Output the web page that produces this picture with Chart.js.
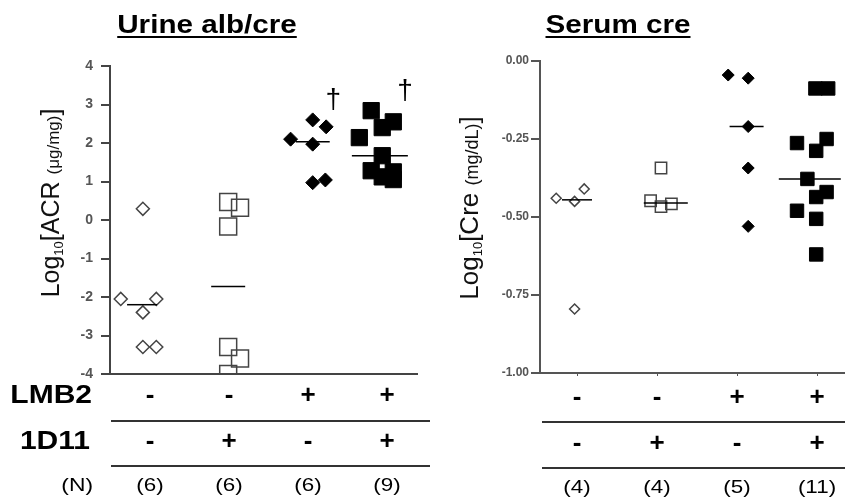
<!DOCTYPE html>
<html>
<head>
<meta charset="utf-8">
<script src="https://cdn.jsdelivr.net/npm/chart.js@4.4.1/dist/chart.umd.min.js"></script>
<style>
  html, body { margin: 0; padding: 0; background: #fff; }
  #wrap { position: relative; width: 845px; height: 501px; overflow: hidden; }
  canvas { position: absolute; top: 0; }
</style>
</head>
<body>
<div id="wrap">
  <canvas id="acr" width="430" height="501" style="left:0;width:430px;height:501px"></canvas>
  <canvas id="cre" width="415" height="501" style="left:430px;width:415px;height:501px"></canvas>
</div>
<script>
// groups (x positions 1..4) and the treatment table under the plots
const groups = [1, 2, 3, 4];
const lmb2 = ['-', '-', '+', '+'];
const d1d11 = ['-', '+', '-', '+'];
const acrN = ['(6)', '(6)', '(6)', '(9)'];
const creN = ['(4)', '(4)', '(5)', '(11)'];

// Urine alb/cre, log10 ACR (ug/mg). *Jit = horizontal spread of the dots in a group
const acrCtrl = [0.29, -2.05, -2.05, -2.4, -3.3, -3.3];
const acrCtrlJit = [-0.09, -0.37, 0.08, -0.09, -0.09, 0.08];
const acr1D11 = [0.47, 0.32, -0.17, -3.3, -3.6, -4.0];
const acr1D11Jit = [-0.01, 0.14, -0.01, -0.01, 0.14, -0.01];
const acrLMB2 = [2.1, 1.97, 2.6, 2.42, 0.97, 1.04];
const acrLMB2Jit = [-0.22, 0.06, 0.06, 0.23, 0.06, 0.22];
const acrBoth = [2.84, 2.55, 2.4, 2.14, 1.67, 1.28, 1.25, 1.12, 1.05];
const acrBothJit = [-0.2, 0.08, -0.06, -0.35, -0.06, -0.2, 0.08, -0.06, 0.08];
const acrMedian = [-2.2, -1.73, 2.03, 1.67];
const acrMedianJit = [-0.1, -0.01, 0.06, -0.09];
const acrDagger = [null, null, 3.1, 3.35];
const acrDaggerJit = [0, 0, 0.32, 0.23];

// Serum cre, log10 Cre (mg/dL)
const creCtrl = [-0.44, -0.45, -0.41, -0.795];
const creCtrlJit = [-0.26, -0.03, 0.09, -0.03];
const cre1D11 = [-0.343, -0.448, -0.467, -0.458];
const cre1D11Jit = [0.05, -0.08, 0.05, 0.18];
const creLMB2 = [-0.045, -0.055, -0.21, -0.343, -0.53];
const creLMB2Jit = [-0.11, 0.14, 0.14, 0.14, 0.14];
const creBoth = [-0.088, -0.088, -0.263, -0.25, -0.288, -0.378, -0.42, -0.436, -0.48, -0.506, -0.62];
const creBothJit = [-0.02, 0.14, -0.25, 0.12, -0.01, -0.12, 0.12, -0.01, -0.25, -0.01, -0.01];
const creMedian = [-0.445, -0.455, -0.21, -0.378];
const creMedianJit = [0, 0.11, 0.12, -0.09];

const FONT = '"Liberation Sans", Arial, sans-serif';

function pts(g, vals, jit) {
  return vals.map((v, i) => ({ x: g + jit[i], y: v }));
}
function medPts(vals, jit) {
  return vals.map((v, i) => ({ x: groups[i] + jit[i], y: v }));
}

function dots(data, style, filled, r, extra) {
  return Object.assign({
    data: data,
    pointStyle: style,
    pointRadius: r,
    pointBorderWidth: filled ? 1 : 1.5,
    pointBorderColor: filled ? '#000' : '#444',
    pointBackgroundColor: filled ? '#000' : 'rgba(0,0,0,0)',
    showLine: false
  }, extra || {});
}

function medianSet(data, halfLen) {
  return {
    data: data,
    pointStyle: 'line',
    pointRadius: halfLen,
    pointBorderWidth: 1.5,
    pointBorderColor: '#000',
    showLine: false
  };
}

// text a bit wider than the font, like the original figure
function wideText(ctx, t, x, y, sx) {
  ctx.save();
  ctx.translate(x, y);
  ctx.scale(sx, 1);
  ctx.fillText(t, 0, 0);
  ctx.restore();
}

// rotated y title with subscript and smaller unit text
function drawYTitle(ctx, cx, cy, parts) {
  ctx.save();
  ctx.translate(cx, cy);
  ctx.rotate(-Math.PI / 2);
  ctx.fillStyle = '#111';
  ctx.textBaseline = 'alphabetic';
  ctx.textAlign = 'left';
  let total = 0;
  parts.forEach(p => { ctx.font = p.size + 'px ' + FONT; p.w = ctx.measureText(p.t).width; total += p.w; });
  let u = -total / 2;
  parts.forEach(p => {
    ctx.font = p.size + 'px ' + FONT;
    ctx.fillText(p.t, u, 7 + (p.drop || 0));
    u += p.w;
  });
  ctx.restore();
}

function decor(o) {
  return {
    id: 'decor',
    afterDraw(chart) {
      const ctx = chart.ctx;
      const xs = chart.scales.x, ys = chart.scales.y;
      ctx.save();
      // title, bold and underlined
      ctx.fillStyle = '#000';
      ctx.font = 'bold 26px ' + FONT;
      ctx.textAlign = 'center';
      ctx.textBaseline = 'alphabetic';
      wideText(ctx, o.title, o.titleX, 33, 1.14);
      const tw = ctx.measureText(o.title).width * 1.14;
      ctx.strokeStyle = '#000';
      ctx.lineWidth = 2;
      ctx.beginPath();
      ctx.moveTo(o.titleX - tw / 2, 37);
      ctx.lineTo(o.titleX + tw / 2, 37);
      ctx.stroke();

      drawYTitle(ctx, o.yTitleX, o.yTitleY, o.yTitle);

      // daggers
      if (o.daggers) {
        ctx.font = '28px ' + FONT;
        ctx.textBaseline = 'middle';
        o.daggers.forEach((v, i) => {
          if (v === null) return;
          ctx.fillText('\u2020', xs.getPixelForValue(groups[i] + o.daggerJit[i]), ys.getPixelForValue(v));
        });
      }

      // treatment table
      ctx.textBaseline = 'middle';
      ctx.textAlign = 'center';
      ctx.font = 'bold 26px ' + FONT;
      groups.forEach((g, i) => {
        const px = xs.getPixelForValue(g);
        ctx.fillText(lmb2[i], px, o.rowY[0]);
        ctx.fillText(d1d11[i], px, o.rowY[1]);
      });
      ctx.font = '19px ' + FONT;
      groups.forEach((g, i) => {
        wideText(ctx, o.n[i], xs.getPixelForValue(g), o.rowY[2], 1.18);
      });
      if (o.rowLabels) {
        ctx.textAlign = 'right';
        ctx.font = 'bold 25px ' + FONT;
        wideText(ctx, 'LMB2', 92, o.rowY[0], 1.2);
        wideText(ctx, '1D11', 90, o.rowY[1], 1.2);
        ctx.font = '19px ' + FONT;
        wideText(ctx, '(N)', 93, o.rowY[2], 1.2);
      }
      ctx.strokeStyle = '#333';
      ctx.lineWidth = 2;
      o.lineY.forEach(y => {
        ctx.beginPath();
        ctx.moveTo(o.lineX[0], y);
        ctx.lineTo(o.lineX[1], y);
        ctx.stroke();
      });
      ctx.restore();
    }
  };
}

new Chart(document.getElementById('acr'), {
  type: 'scatter',
  data: {
    datasets: [
      medianSet(medPts(acrMedian, acrMedianJit), [15, 17, 17, 28]),
      dots(pts(1, acrCtrl, acrCtrlJit), 'rectRot', false, 6.5),
      dots(pts(2, acr1D11, acr1D11Jit), 'rect', false, 12, { clip: { left: false, top: false, right: false, bottom: 0 } }),
      dots(pts(3, acrLMB2, acrLMB2Jit), 'rectRot', true, 7),
      dots(pts(4, acrBoth, acrBothJit), 'rect', true, 11.5)
    ]
  },
  options: {
    responsive: false,
    animation: false,
    layout: { autoPadding: false, padding: { top: 66, bottom: 127, left: 0, right: 13 } },
    plugins: { legend: { display: false }, tooltip: { enabled: false } },
    scales: {
      x: {
        type: 'linear', min: 0.494, max: 4.38,
        ticks: { display: false },
        grid: { display: false },
        border: { display: true, color: '#444', width: 2 },
        afterFit(s) { s.height = 0; }
      },
      y: {
        min: -4, max: 4,
        ticks: { stepSize: 1, color: '#555', padding: 8, font: { family: FONT, size: 14, weight: 'bold' } },
        grid: { display: true, drawOnChartArea: false, drawTicks: true, tickLength: 9, color: '#444', lineWidth: 2 },
        border: { display: true, color: '#444', width: 2 },
        afterFit(s) { s.width = 110; }
      }
    }
  },
  plugins: [decor({
    title: 'Urine alb/cre', titleX: 207,
    yTitleX: 52, yTitleY: 203,
    yTitle: [
      { t: 'Log', size: 25 }, { t: '10', size: 13, drop: 4 }, { t: '[ACR ', size: 25 },
      { t: '(\u03bcg/mg)', size: 17 }, { t: ']', size: 25 }
    ],
    daggers: acrDagger, daggerJit: acrDaggerJit,
    n: acrN, rowLabels: true,
    rowY: [396, 442, 486], lineY: [421, 466], lineX: [111, 430]
  })]
});

new Chart(document.getElementById('cre'), {
  type: 'scatter',
  data: {
    datasets: [
      medianSet(medPts(creMedian, creMedianJit), [15, 22, 17, 31]),
      dots(pts(1, creCtrl, creCtrlJit), 'rectRot', false, 5),
      dots(pts(2, cre1D11, cre1D11Jit), 'rect', false, 8),
      dots(pts(3, creLMB2, creLMB2Jit), 'rectRot', true, 6),
      dots(pts(4, creBoth, creBothJit), 'rect', true, 9.5)
    ]
  },
  options: {
    responsive: false,
    animation: false,
    layout: { autoPadding: false, padding: { top: 61, bottom: 128, left: 0, right: 0 } },
    plugins: { legend: { display: false }, tooltip: { enabled: false } },
    scales: {
      x: {
        type: 'linear', min: 0.5375, max: 4.35,
        afterBuildTicks(s) { s.ticks = groups.map(v => ({ value: v })); },
        ticks: { display: false },
        grid: { display: true, drawOnChartArea: false, drawTicks: true, tickLength: 3, color: '#555', lineWidth: 1 },
        border: { display: true, color: '#555', width: 2 },
        afterFit(s) { s.height = 0; }
      },
      y: {
        min: -1, max: 0,
        ticks: {
          stepSize: 0.25, color: '#555', padding: 2,
          font: { family: FONT, size: 12, weight: 'bold' },
          callback: v => v.toFixed(2)
        },
        grid: { display: true, drawOnChartArea: false, drawTicks: true, tickLength: 9, color: '#555', lineWidth: 2 },
        border: { display: true, color: '#555', width: 2 },
        afterFit(s) { s.width = 110; }
      }
    }
  },
  plugins: [decor({
    title: 'Serum cre', titleX: 188,
    yTitleX: 41, yTitleY: 208,
    yTitle: [
      { t: 'Log', size: 26 }, { t: '10', size: 13, drop: 4 }, { t: '[Cre ', size: 26 },
      { t: '(mg/dL)', size: 18 }, { t: ']', size: 26 }
    ],
    n: creN, rowLabels: false,
    rowY: [398, 444, 488], lineY: [422, 468], lineX: [112, 415]
  })]
});
</script>
</body>
</html>
